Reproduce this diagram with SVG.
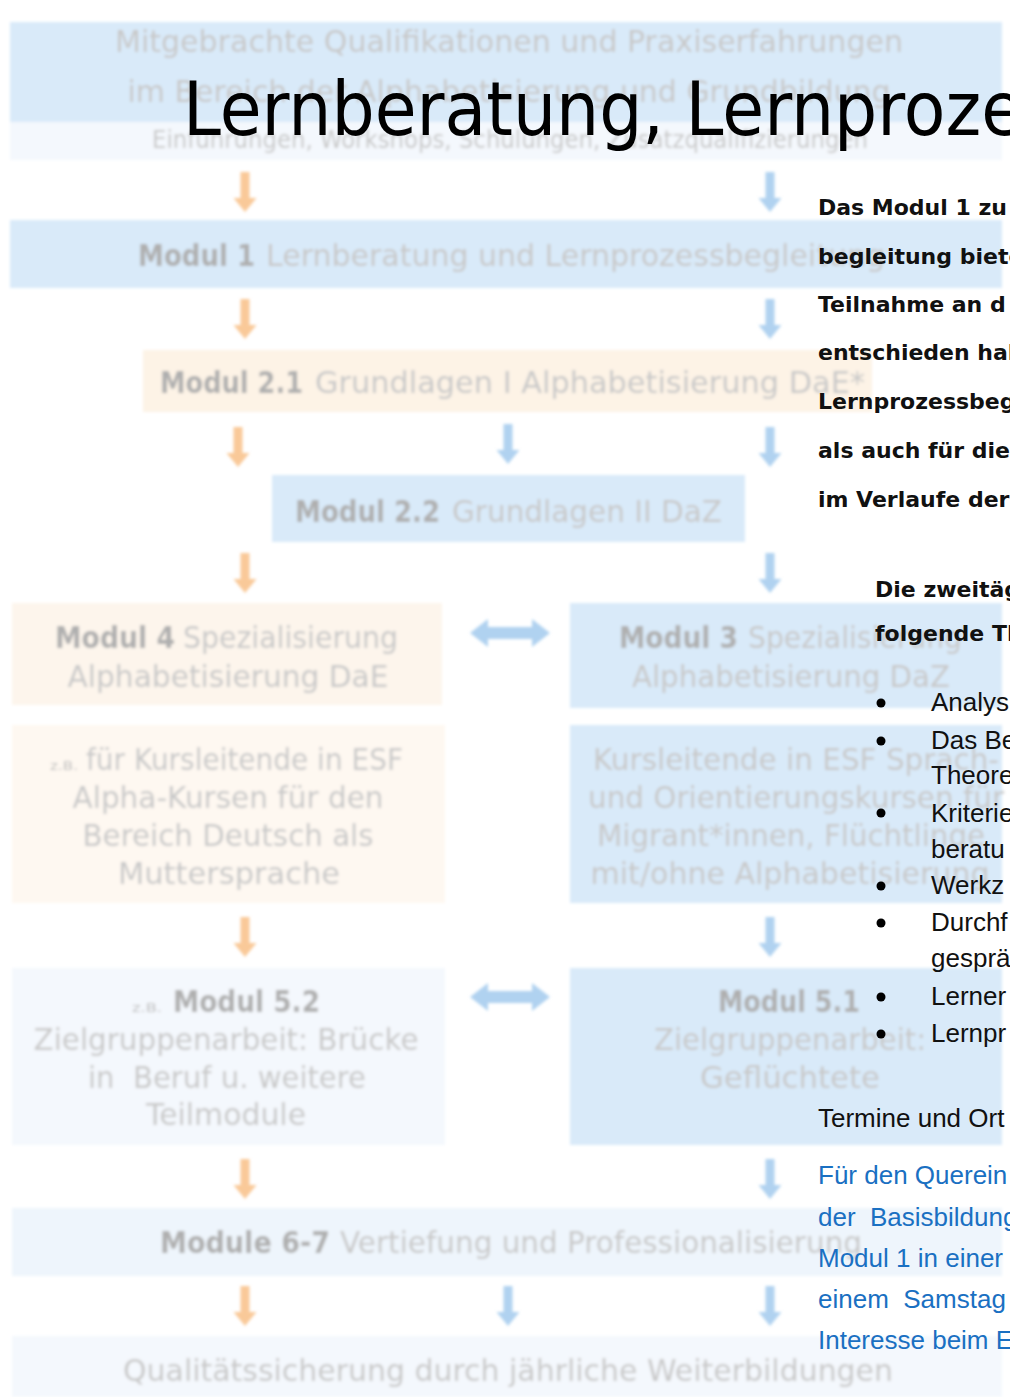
<svg xmlns="http://www.w3.org/2000/svg" xmlns:xlink="http://www.w3.org/1999/xlink" width="1010" height="1397" viewBox="0 0 1010 1397">
<defs>
<filter id="soft" x="-5%" y="-5%" width="110%" height="110%"><feGaussianBlur stdDeviation="1.5"/></filter>
<path id="down" d="M-4.5,0 h9 v26 h7 l-11.5,14 l-11.5,-14 h7 z"/>
<path id="both" d="M-40,0 l18,-14 v8 h44 v-8 l18,14 l-18,14 v-8 h-44 v8 z"/>
</defs>
<style>
.bb{fill:#d9eaf9}
.bl{fill:#eef5fc}
.bv{fill:#f4f8fd}
.ob{fill:#fdf3e6}
.o2{fill:#fdf5ec}
.ov{fill:#fef8f1}
.t{font-family:"DejaVu Sans",sans-serif;font-size:31px;fill:#c8c8c8}
.tb{font-family:"DejaVu Sans",sans-serif;font-size:31px;font-weight:bold;fill:#afafaf}
.ts{font-family:"DejaVu Sans",sans-serif;font-size:13px;fill:#bcbcbc}
.ao{fill:#f9c999}
.ab{fill:#b0d2f0}
.hand{font-family:"DejaVu Sans",sans-serif;font-size:22px;font-weight:bold;fill:#111}
.title{font-family:"DejaVu Sans",sans-serif;font-size:74px;fill:#000}
.cal{font-family:"Liberation Sans",Arial,sans-serif;font-size:26px;fill:#111}
.blue{font-family:"Liberation Sans",Arial,sans-serif;font-size:26px;fill:#1a70c2}
</style>
<rect width="1010" height="1397" fill="#ffffff"/>
<g id="flowchart" filter="url(#soft)">
<g id="n-top">
<rect class="bb" x="10" y="22" width="992" height="100"/>
<rect class="bv" x="10" y="122" width="992" height="38"/>
<text class="t" x="509" y="52" text-anchor="middle" textLength="788" lengthAdjust="spacingAndGlyphs">Mitgebrachte Qualifikationen und Praxiserfahrungen</text>
<text class="t" x="509" y="102" text-anchor="middle" textLength="763" lengthAdjust="spacingAndGlyphs">im Bereich der Alphabetisierung und Grundbildung</text>
<text class="t" x="510" y="148" text-anchor="middle" style="font-size:24px" textLength="716" lengthAdjust="spacingAndGlyphs">Einführungen, Workshops, Schulungen, Zusatzqualifizierungen</text>
</g>
<g id="n-modul1">
<rect class="bb" x="10" y="220" width="992" height="68"/>
<text class="tb" x="138" y="266" textLength="117" lengthAdjust="spacingAndGlyphs">Modul 1</text>
<text class="t" x="266" y="266" textLength="619" lengthAdjust="spacingAndGlyphs">Lernberatung und Lernprozessbegleitung</text>
</g>
<g id="n-modul21">
<rect class="ob" x="143" y="350" width="729" height="62"/>
<text class="tb" x="160" y="393" textLength="143" lengthAdjust="spacingAndGlyphs">Modul 2.1</text>
<text class="t" x="315" y="393" textLength="550" lengthAdjust="spacingAndGlyphs">Grundlagen I Alphabetisierung DaE*</text>
</g>
<g id="n-modul22">
<rect class="bb" x="272" y="475" width="473" height="67"/>
<text class="tb" x="295" y="522" textLength="145" lengthAdjust="spacingAndGlyphs">Modul 2.2</text>
<text class="t" x="452" y="522" textLength="270" lengthAdjust="spacingAndGlyphs">Grundlagen II DaZ</text>
</g>
<g id="n-modul4">
<rect class="o2" x="12" y="603" width="430" height="102"/>
<text class="tb" x="55" y="648" textLength="120" lengthAdjust="spacingAndGlyphs">Modul 4</text>
<text class="t" x="183" y="648" textLength="215" lengthAdjust="spacingAndGlyphs">Spezialisierung</text>
<text class="t" x="228" y="687" text-anchor="middle" textLength="321" lengthAdjust="spacingAndGlyphs">Alphabetisierung DaE</text>
</g>
<g id="n-modul3">
<rect class="bb" x="570" y="603" width="432" height="105"/>
<text class="tb" x="619" y="648" textLength="119" lengthAdjust="spacingAndGlyphs">Modul 3</text>
<text class="t" x="748" y="648" textLength="214" lengthAdjust="spacingAndGlyphs">Spezialisierung</text>
<text class="t" x="791" y="687" text-anchor="middle" textLength="318" lengthAdjust="spacingAndGlyphs">Alphabetisierung DaZ</text>
</g>
<g id="n-dae-target">
<rect class="ov" x="12" y="725" width="433" height="178"/>
<text class="ts" x="50" y="770" textLength="28" lengthAdjust="spacingAndGlyphs">z.B.</text>
<text class="t" x="86" y="770" textLength="317" lengthAdjust="spacingAndGlyphs">für Kursleitende in ESF</text>
<text class="t" x="228" y="808" text-anchor="middle" textLength="311" lengthAdjust="spacingAndGlyphs">Alpha-Kursen für den</text>
<text class="t" x="228" y="846" text-anchor="middle" textLength="291" lengthAdjust="spacingAndGlyphs">Bereich Deutsch als</text>
<text class="t" x="229" y="884" text-anchor="middle" textLength="222" lengthAdjust="spacingAndGlyphs">Muttersprache</text>
</g>
<g id="n-daz-target">
<rect class="bb" x="570" y="725" width="432" height="178"/>
<text class="t" x="796" y="770" text-anchor="middle" textLength="406" lengthAdjust="spacingAndGlyphs">Kursleitende in ESF Sprach-</text>
<text class="t" x="796" y="808" text-anchor="middle" textLength="416" lengthAdjust="spacingAndGlyphs">und Orientierungskursen für</text>
<text class="t" x="791" y="846" text-anchor="middle" textLength="388" lengthAdjust="spacingAndGlyphs">Migrant*innen, Flüchtlinge</text>
<text class="t" x="790" y="884" text-anchor="middle" textLength="399" lengthAdjust="spacingAndGlyphs">mit/ohne Alphabetisierung</text>
</g>
<g id="n-modul52">
<rect class="bv" x="12" y="968" width="433" height="177"/>
<text class="ts" x="132" y="1012" textLength="30" lengthAdjust="spacingAndGlyphs">z.B.</text>
<text class="tb" x="173" y="1012" textLength="147" lengthAdjust="spacingAndGlyphs">Modul 5.2</text>
<text class="t" x="226" y="1050" text-anchor="middle" textLength="385" lengthAdjust="spacingAndGlyphs">Zielgruppenarbeit: Brücke</text>
<text class="t" x="227" y="1088" text-anchor="middle" textLength="278" lengthAdjust="spacingAndGlyphs" xml:space="preserve">in  Beruf u. weitere</text>
<text class="t" x="226" y="1125" text-anchor="middle" textLength="160" lengthAdjust="spacingAndGlyphs">Teilmodule</text>
</g>
<g id="n-modul51">
<rect class="bb" x="570" y="968" width="432" height="177"/>
<text class="tb" x="789" y="1012" text-anchor="middle" textLength="142" lengthAdjust="spacingAndGlyphs">Modul 5.1</text>
<text class="t" x="790" y="1050" text-anchor="middle" textLength="272" lengthAdjust="spacingAndGlyphs">Zielgruppenarbeit:</text>
<text class="t" x="790" y="1088" text-anchor="middle" textLength="180" lengthAdjust="spacingAndGlyphs">Geflüchtete</text>
</g>
<g id="n-modul67">
<rect class="bl" x="12" y="1208" width="990" height="68"/>
<text class="tb" x="160" y="1253" textLength="170" lengthAdjust="spacingAndGlyphs">Module 6-7</text>
<text class="t" x="340" y="1253" textLength="522" lengthAdjust="spacingAndGlyphs">Vertiefung und Professionalisierung</text>
</g>
<g id="n-quality">
<rect class="bv" x="12" y="1336" width="990" height="61"/>
<text class="t" x="508" y="1381" text-anchor="middle" textLength="770" lengthAdjust="spacingAndGlyphs">Qualitätssicherung durch jährliche Weiterbildungen</text>
</g>
<g id="connectors">
<use xlink:href="#down" class="ao" x="245" y="172"/>
<use xlink:href="#down" class="ab" x="770" y="172"/>
<use xlink:href="#down" class="ao" x="245" y="299"/>
<use xlink:href="#down" class="ab" x="770" y="299"/>
<use xlink:href="#down" class="ao" x="238" y="427"/>
<use xlink:href="#down" class="ab" x="508" y="424"/>
<use xlink:href="#down" class="ab" x="770" y="427"/>
<use xlink:href="#down" class="ao" x="245" y="553"/>
<use xlink:href="#down" class="ab" x="770" y="553"/>
<use xlink:href="#both" class="ab" x="510" y="633"/>
<use xlink:href="#down" class="ao" x="245" y="917"/>
<use xlink:href="#down" class="ab" x="770" y="917"/>
<use xlink:href="#both" class="ab" x="510" y="997"/>
<use xlink:href="#down" class="ao" x="245" y="1159"/>
<use xlink:href="#down" class="ab" x="770" y="1159"/>
<use xlink:href="#down" class="ao" x="245" y="1286"/>
<use xlink:href="#down" class="ab" x="508" y="1286"/>
<use xlink:href="#down" class="ab" x="770" y="1286"/>
</g>
</g>
<g id="overlay">
<text class="title" x="183" y="135" textLength="840" lengthAdjust="spacingAndGlyphs">Lernberatung, Lernproze</text>
<g id="intro">
<text class="hand" x="818" y="215">Das Modul 1 zu</text>
<text class="hand" x="818" y="264">begleitung bieten</text>
<text class="hand" x="818" y="312">Teilnahme an d</text>
<text class="hand" x="818" y="360">entschieden hab</text>
<text class="hand" x="818" y="409">Lernprozessbegl</text>
<text class="hand" x="818" y="458">als auch für die</text>
<text class="hand" x="818" y="507">im Verlaufe der</text>
<text class="hand" x="875" y="597">Die zweitäg</text>
<text class="hand" x="875" y="641">folgende Th</text>
</g>
<g id="topics">
<circle cx="881" cy="703" r="4.5" fill="#000"/>
<circle cx="881" cy="741" r="4.5" fill="#000"/>
<circle cx="881" cy="813" r="4.5" fill="#000"/>
<circle cx="881" cy="886" r="4.5" fill="#000"/>
<circle cx="881" cy="923" r="4.5" fill="#000"/>
<circle cx="881" cy="997" r="4.5" fill="#000"/>
<circle cx="881" cy="1034" r="4.5" fill="#000"/>
<text class="cal" x="931" y="711">Analys</text>
<text class="cal" x="931" y="749">Das Be</text>
<text class="cal" x="931" y="784">Theore</text>
<text class="cal" x="931" y="822">Kriterie</text>
<text class="cal" x="931" y="858">beratu</text>
<text class="cal" x="931" y="894">Werkz</text>
<text class="cal" x="931" y="931">Durchf</text>
<text class="cal" x="931" y="967">gesprä</text>
<text class="cal" x="931" y="1005">Lerner</text>
<text class="cal" x="931" y="1042">Lernpr</text>
<text class="cal" x="818" y="1127">Termine und Ort</text>
</g>
<g id="note">
<text class="blue" x="818" y="1184">Für den Querein</text>
<text class="blue" x="818" y="1226" xml:space="preserve">der  Basisbildung</text>
<text class="blue" x="818" y="1267">Modul 1 in einer</text>
<text class="blue" x="818" y="1308" xml:space="preserve">einem  Samstag</text>
<text class="blue" x="818" y="1349">Interesse beim E</text>
</g>
</g>
</svg>
